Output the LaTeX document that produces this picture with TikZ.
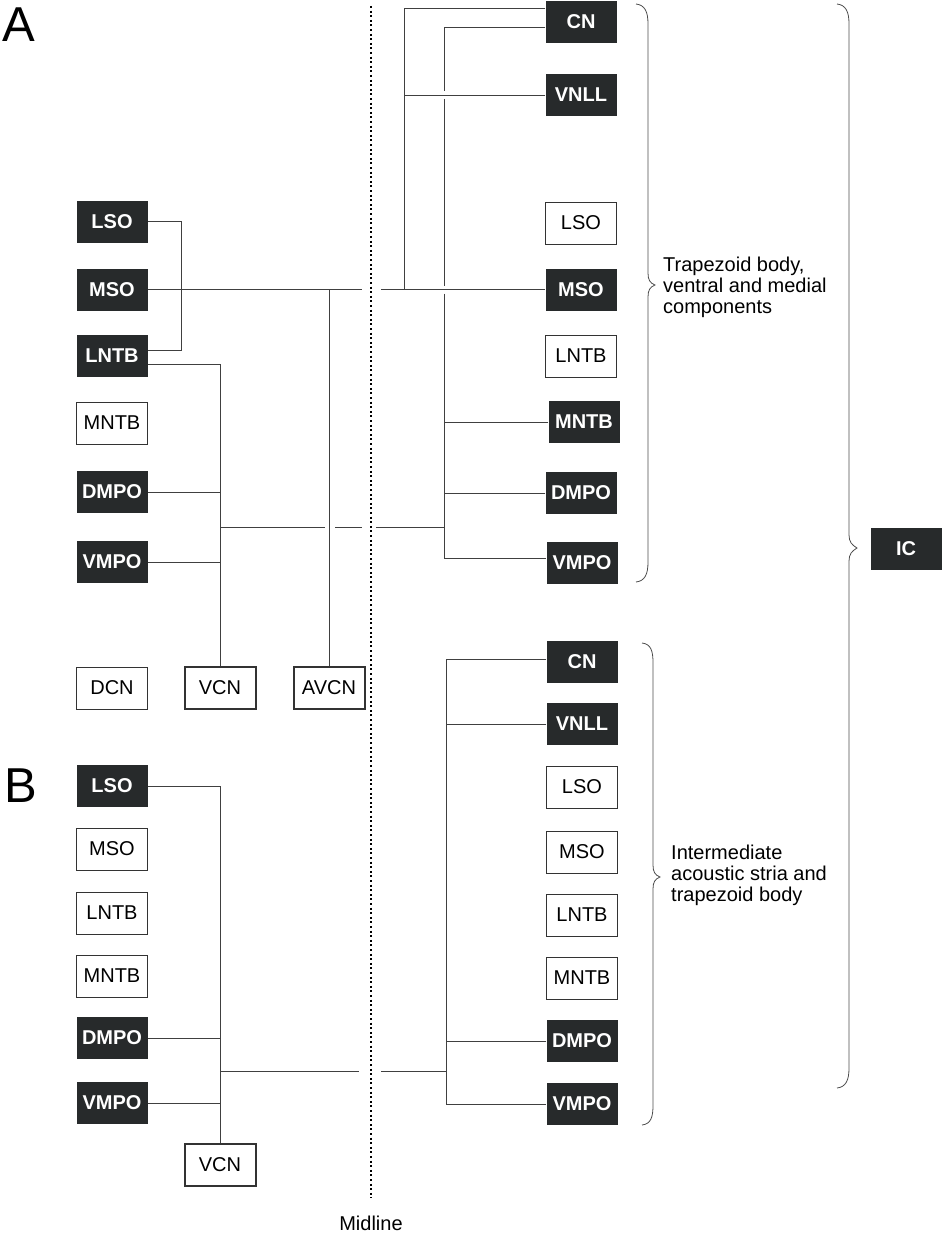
\documentclass[tikz,border=0pt]{standalone}
\usepackage{fontspec}
\setmainfont{Liberation Sans}
\usetikzlibrary{calc,positioning}
\definecolor{nucl}{HTML}{272A2B}
\tikzset{
  wire/.style={line width=0.9pt, draw=black!75},
  box/.style={minimum width=71pt, minimum height=42pt, inner sep=0pt, font=\fontsize{20}{21}\selectfont},
  bbox/.style={box, fill=nucl, text=white, font=\fontsize{20}{21}\selectfont\bfseries},
  wbox/.style={box, draw=black!80, line width=0.9pt, fill=white},
  tbox/.style={wbox, line width=2pt},
  brc/.style={line width=0.8pt, draw=black!70},
  midl/.style={line width=2pt, dash pattern=on 2pt off 2.6pt},
  lbl/.style={align=left, anchor=west, inner sep=0pt, font=\fontsize{20}{21}\selectfont},
  panel/.style={inner sep=0pt, font=\fontsize{49}{49}\selectfont}
}
\begin{document}
\begin{tikzpicture}[x=1pt,y=-1pt]
  \useasboundingbox (0,0) rectangle (943,1236);
  % panel A, left side
  \node[panel] (labA) at (19,25) {A};
  \node[bbox] (lsoA) at (112,221.5) {LSO};
  \node[bbox] (msoA) at (112,289.5) {MSO};
  \node[bbox] (lntbA) at (112,356) {LNTB};
  \node[wbox] (mntbA) at (112,423) {MNTB};
  \node[bbox] (dmpoA) at (112,492) {DMPO};
  \node[bbox] (vmpoA) at (112,562) {VMPO};
  \node[wbox] (dcnA) at (112,688) {DCN};
  \node[tbox] (vcnA) at (220,688) {VCN};
  \node[tbox] (avcnA) at (329,688) {AVCN};
  % panel A, right side
  \node[bbox] (cnA) at (581,22) {CN};
  \node[bbox] (vnllA) at (581,95) {VNLL};
  \node[wbox] (lsoAr) at (581,223) {LSO};
  \node[bbox] (msoAr) at (581,289.5) {MSO};
  \node[wbox] (lntbAr) at (581,356) {LNTB};
  \node[bbox] (mntbAr) at (584,422) {MNTB};
  \node[bbox] (dmpoAr) at (581,493) {DMPO};
  \node[bbox] (vmpoAr) at (582,563) {VMPO};
  % panel B
  \node[panel] (labB) at (21,786) {B};
  \node[bbox] (lsoB) at (112,786) {LSO};
  \node[wbox] (msoB) at (112,849) {MSO};
  \node[wbox] (lntbB) at (112,913) {LNTB};
  \node[wbox] (mntbB) at (112,976) {MNTB};
  \node[bbox] (dmpoB) at (112,1038) {DMPO};
  \node[bbox] (vmpoB) at (112,1103) {VMPO};
  \node[tbox] (vcnB) at (220,1165) {VCN};
  \node[bbox] (cnB) at (582,662) {CN};
  \node[bbox] (vnllB) at (582,724) {VNLL};
  \node[wbox] (lsoBr) at (582,787) {LSO};
  \node[wbox] (msoBr) at (582,852) {MSO};
  \node[wbox] (lntbBr) at (582,915) {LNTB};
  \node[wbox] (mntbBr) at (582,978) {MNTB};
  \node[bbox] (dmpoBr) at (582,1041) {DMPO};
  \node[bbox] (vmpoBr) at (582,1104) {VMPO};
  \node[bbox] (ic) at (906,549) {IC};

  % midline
  \coordinate (mid) at (371,0);
  \draw[midl] (371,6) -- (371,1198);
  \node[lbl, anchor=center] (midtxt) at (371,1223) {Midline};

  % bus positions
  \coordinate (busLa) at (181,0);
  \coordinate (busRo) at (404,0);
  \coordinate (busRi) at (444,0);
  \coordinate (busBr) at (446,0);
  \coordinate (jA) at (220,527);
  \coordinate (jB) at (220,1071);

  % A left
  \draw[wire] (lsoA.east) -| ($(busLa |- lntbA)+(0,-6)$) -- ($(lntbA.east)+(0,-6)$);
  \draw[wire] ($(lntbA.east)+(0,8)$) -| (vcnA.north);
  \draw[wire] (msoA.east) -- ($(msoA -| mid)+(-9,0)$);
  \draw[wire] ($(msoA -| mid)+(10,0)$) -- (msoAr.west);
  \draw[wire] (avcnA.north) -- (avcnA.north |- msoA);
  \draw[wire] (dmpoA.east) -- (dmpoA.east -| vcnA.north);
  \draw[wire] (vmpoA.east) -- (vmpoA.east -| vcnA.north);
  \draw[wire] (jA) -- ($(jA -| avcnA.north)+(-4,0)$);
  \draw[wire] ($(jA -| avcnA.north)+(6,0)$) -- ($(jA -| mid)+(-9,0)$);
  \draw[wire] ($(jA -| mid)+(5,0)$) -- (jA -| busRi);

  % A right
  \draw[wire] ($(cnA.west)+(0,-14)$) -| (busRo |- msoAr);
  \draw[wire] (vnllA.west) -- (vnllA.west -| busRo);
  \draw[wire] ($(cnA.west)+(0,5)$) -| ($(busRi |- vnllA)+(0,-4)$);
  \draw[wire] ($(busRi |- vnllA)+(0,4)$) -- ($(busRi |- msoAr)+(0,-4)$);
  \draw[wire] ($(busRi |- msoAr)+(0,4)$) |- ($(vmpoAr.west)+(0,-5)$);
  \draw[wire] (mntbAr.west) -- (mntbAr.west -| busRi);
  \draw[wire] (dmpoAr.west) -- (dmpoAr.west -| busRi);

  % B
  \draw[wire] (lsoB.east) -| (vcnB.north);
  \draw[wire] (dmpoB.east) -- (dmpoB.east -| vcnB.north);
  \draw[wire] (vmpoB.east) -- (vmpoB.east -| vcnB.north);
  \draw[wire] (jB) -- ($(jB -| mid)+(-12,0)$);
  \draw[wire] ($(jB -| mid)+(10,0)$) -- (jB -| busBr);
  \draw[wire] ($(cnB.west)+(0,-3)$) -| (busBr |- vmpoBr) -- (vmpoBr.west);
  \draw[wire] (vnllB.west) -- (vnllB.west -| busBr);
  \draw[wire] (dmpoBr.west) -- (dmpoBr.west -| busBr);

  % braces
  \draw[brc] (636,4) .. controls (645,5) and (648,12) .. (648,24) -- (648,273)
    .. controls (648,280) and (650,283) .. (655,285) .. controls (650,287) and (648,290) .. (648,297)
    -- (648,562) .. controls (648,574) and (645,581) .. (636,582);
  \draw[brc] (642,643) .. controls (651,644) and (653,651) .. (653,663) -- (653,865)
    .. controls (653,872) and (655,875) .. (660,877) .. controls (655,879) and (653,882) .. (653,889)
    -- (653,1105) .. controls (653,1117) and (651,1124) .. (642,1125);
  \draw[brc] (837,4) .. controls (846,5) and (849,12) .. (849,24) -- (849,535)
    .. controls (849,542) and (852,545) .. (857,548) .. controls (852,551) and (849,554) .. (849,561)
    -- (849,1068) .. controls (849,1080) and (846,1087) .. (837,1088);
  \node[lbl] (trap) at (663,287) {Trapezoid body,\\ventral and medial\\components};
  \node[lbl] (inter) at (671,875) {Intermediate\\acoustic stria and\\trapezoid body};
\end{tikzpicture}
\end{document}
